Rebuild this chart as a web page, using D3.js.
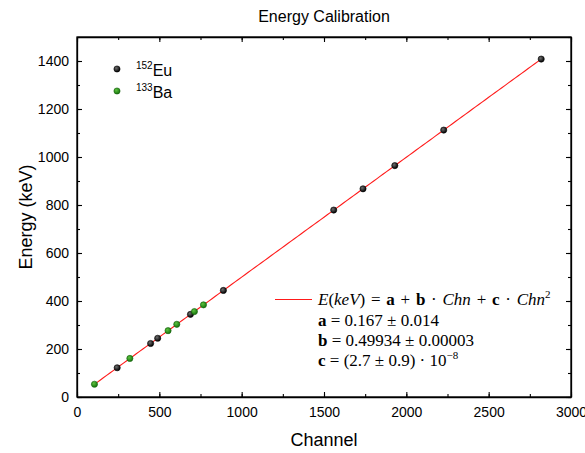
<!DOCTYPE html>
<html>
<head>
<meta charset="utf-8">
<script src="https://cdn.jsdelivr.net/npm/d3@7/dist/d3.min.js"></script>
<style>
  html, body { margin: 0; padding: 0; background: #fff; }
  svg { display: block; }
</style>
</head>
<body>
<svg id="chart" width="585" height="453"></svg>
<script>
// Calibration peaks: channel position and known gamma energy (keV)
const euChannel = [244, 447, 490, 689, 889, 1559, 1737, 1930, 2227, 2819];
const euEnergy  = [121.8, 223.0, 244.7, 344.3, 444.0, 778.9, 867.4, 964.1, 1112.1, 1408.0];
const baChannel = [106, 321, 553, 606, 713, 768];
const baEnergy  = [53.2, 160.6, 276.4, 302.9, 356.0, 383.9];

// Quadratic fit parameters
const fitA = 0.167, fitB = 0.49934, fitC = 2.7e-8;
const fitRange = [100, 2820];

const xTicks = [0, 500, 1000, 1500, 2000, 2500, 3000];
const yTicks = [0, 200, 400, 600, 800, 1000, 1200, 1400];

const svg = d3.select("#chart");
const plotLeft = 77, plotRight = 571, plotTop = 37, plotBottom = 397;

const x = d3.scaleLinear().domain([0, 3000]).range([plotLeft, plotRight]);
const y = d3.scaleLinear().domain([0, 1500]).range([plotBottom, plotTop]);

const sans = "'Liberation Sans', Arial, sans-serif";
const serif = "'Liberation Serif', 'Times New Roman', serif";
const fmt = d3.format("d");

// gradients for shaded markers
const defs = svg.append("defs");
function sphere(id, light, dark) {
  const g = defs.append("radialGradient").attr("id", id)
    .attr("cx", "38%").attr("cy", "35%").attr("r", "65%");
  g.append("stop").attr("offset", "0%").attr("stop-color", light);
  g.append("stop").attr("offset", "100%").attr("stop-color", dark);
}
sphere("gEu", "#6e6e6e", "#000000");
sphere("gBa", "#5cc23e", "#17740d");

// axes with inward ticks
const minorX = d3.range(0, 3001, 250);
const minorY = d3.range(0, 1501, 100);
const axisStyle = g => {
  g.selectAll("path").attr("stroke", "#000").attr("stroke-width", 1.3);
  g.selectAll("line").attr("stroke", "#000").attr("stroke-width", 1.1);
};

// minor ticks
svg.append("g").attr("transform", `translate(0,${plotBottom})`)
  .call(d3.axisBottom(x).tickValues(minorX).tickSizeInner(-3).tickSizeOuter(0).tickFormat(""))
  .call(axisStyle).call(g => g.select("path").remove());
svg.append("g").attr("transform", `translate(0,${plotTop})`)
  .call(d3.axisTop(x).tickValues(minorX).tickSizeInner(-3).tickSizeOuter(0).tickFormat(""))
  .call(axisStyle).call(g => g.select("path").remove());
svg.append("g").attr("transform", `translate(${plotLeft},0)`)
  .call(d3.axisLeft(y).tickValues(minorY).tickSizeInner(-3).tickSizeOuter(0).tickFormat(""))
  .call(axisStyle).call(g => g.select("path").remove());
svg.append("g").attr("transform", `translate(${plotRight},0)`)
  .call(d3.axisRight(y).tickValues(minorY).tickSizeInner(-3).tickSizeOuter(0).tickFormat(""))
  .call(axisStyle).call(g => g.select("path").remove());

// major ticks with labels
const xAxis = svg.append("g").attr("transform", `translate(0,${plotBottom})`)
  .call(d3.axisBottom(x).tickValues(xTicks).tickFormat(fmt).tickSizeInner(-5).tickSizeOuter(0).tickPadding(10))
  .call(axisStyle);
xAxis.selectAll("text").attr("font-family", sans).attr("font-size", 14).attr("fill", "#000");

const yAxis = svg.append("g").attr("transform", `translate(${plotLeft},0)`)
  .call(d3.axisLeft(y).tickValues(yTicks).tickFormat(fmt).tickSizeInner(-5).tickSizeOuter(0).tickPadding(8))
  .call(axisStyle);
yAxis.selectAll("text").attr("font-family", sans).attr("font-size", 14).attr("fill", "#000");

svg.append("g").attr("transform", `translate(0,${plotTop})`)
  .call(d3.axisTop(x).tickValues(xTicks).tickSizeInner(-5).tickSizeOuter(0).tickFormat(""))
  .call(axisStyle);
svg.append("g").attr("transform", `translate(${plotRight},0)`)
  .call(d3.axisRight(y).tickValues(yTicks).tickSizeInner(-5).tickSizeOuter(0).tickFormat(""))
  .call(axisStyle);

// frame
svg.append("rect").attr("x", plotLeft).attr("y", plotTop)
  .attr("width", plotRight - plotLeft).attr("height", plotBottom - plotTop)
  .attr("fill", "none").attr("stroke", "#000").attr("stroke-width", 1.3);

// fit curve from the stated parameters
const fitX = d3.range(fitRange[0], fitRange[1] + 1, 20);
const line = d3.line().x(d => x(d)).y(d => y(fitA + fitB * d + fitC * d * d));
svg.append("path").datum(fitX).attr("d", line)
  .attr("fill", "none").attr("stroke", "#ff1a1a").attr("stroke-width", 1.1);

// markers
const r = 3.1;
svg.append("g").selectAll("circle").data(d3.zip(euChannel, euEnergy)).join("circle")
  .attr("cx", d => x(d[0])).attr("cy", d => y(d[1])).attr("r", r)
  .attr("fill", "url(#gEu)").attr("stroke", "#000").attr("stroke-width", 0.6);
svg.append("g").selectAll("circle").data(d3.zip(baChannel, baEnergy)).join("circle")
  .attr("cx", d => x(d[0])).attr("cy", d => y(d[1])).attr("r", r)
  .attr("fill", "url(#gBa)").attr("stroke", "#14600c").attr("stroke-width", 0.6);

// title and axis labels
svg.append("text").attr("x", (plotLeft + plotRight) / 2).attr("y", 22)
  .attr("text-anchor", "middle").attr("font-family", sans).attr("font-size", 16)
  .text("Energy Calibration");
svg.append("text").attr("x", (plotLeft + plotRight) / 2).attr("y", 446)
  .attr("text-anchor", "middle").attr("font-family", sans).attr("font-size", 18)
  .text("Channel");
svg.append("text").attr("transform", `translate(32,${(plotTop + plotBottom) / 2}) rotate(-90)`)
  .attr("text-anchor", "middle").attr("font-family", sans).attr("font-size", 18)
  .text("Energy (keV)");

// isotope legend
const legend = [
  { mass: "152", el: "Eu", fill: "url(#gEu)", stroke: "#000", y: 69 },
  { mass: "133", el: "Ba", fill: "url(#gBa)", stroke: "#14600c", y: 91 }
];
legend.forEach(l => {
  svg.append("circle").attr("cx", 117).attr("cy", l.y).attr("r", r)
    .attr("fill", l.fill).attr("stroke", l.stroke).attr("stroke-width", 0.6);
  const t = svg.append("text").attr("x", 136).attr("y", l.y + 7)
    .attr("font-family", sans).attr("font-size", 16);
  t.append("tspan").attr("font-size", 10).attr("dy", -7).text(l.mass);
  t.append("tspan").attr("dy", 7).text(l.el);
});

// fit legend with formula
svg.append("line").attr("x1", 275).attr("x2", 312).attr("y1", 299.5).attr("y2", 299.5)
  .attr("stroke", "#ff1a1a").attr("stroke-width", 1.1);

const fs = 17;
function mathLine(yPos, parts, spacing) {
  const t = svg.append("text").attr("x", 318).attr("y", yPos)
    .attr("font-family", serif).attr("font-size", fs).attr("fill", "#000")
    .attr("word-spacing", spacing || 0);
  parts.forEach(p => {
    const s = t.append("tspan").text(p.t);
    if (p.i) s.attr("font-style", "italic");
    if (p.b) s.attr("font-weight", "bold");
    if (p.sup) s.attr("font-size", 11).attr("dy", -7);
  });
  return t;
}
mathLine(305, [
  { t: "E", i: 1 }, { t: "(" }, { t: "keV", i: 1 }, { t: ") = " },
  { t: "a", b: 1 }, { t: " + " }, { t: "b", b: 1 }, { t: " · " },
  { t: "Chn", i: 1 }, { t: " + " }, { t: "c", b: 1 }, { t: " · " },
  { t: "Chn", i: 1 }, { t: "2", sup: 1 }
], 1.5);
mathLine(326, [{ t: "a", b: 1 }, { t: " = 0.167 ± 0.014" }]);
mathLine(346, [{ t: "b", b: 1 }, { t: " = 0.49934 ± 0.00003" }]);
mathLine(366, [{ t: "c", b: 1 }, { t: " = (2.7 ± 0.9) · 10" }, { t: "−8", sup: 1 }]);
</script>
</body>
</html>
